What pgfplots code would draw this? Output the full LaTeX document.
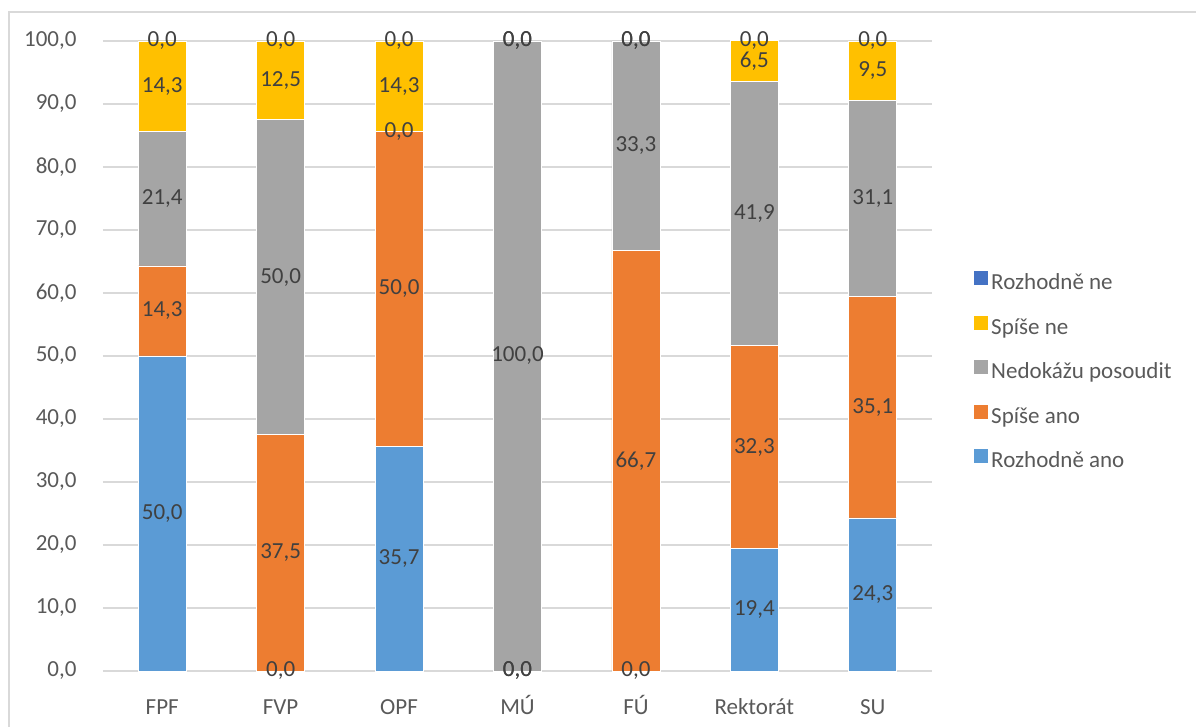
\documentclass[border=0pt]{standalone}
\usepackage{fontspec}
\setmainfont{Carlito}
\usepackage{pgfplots}
\usepackage{pgfplotstable}
\pgfplotsset{compat=1.18}

\definecolor{cAno}{HTML}{5B9BD5}
\definecolor{cSpAno}{HTML}{ED7D31}
\definecolor{cNed}{HTML}{A5A5A5}
\definecolor{cSpNe}{HTML}{FFC000}
\definecolor{cNe}{HTML}{4472C4}
\definecolor{gridc}{HTML}{D9D9D9}
\definecolor{tickc}{HTML}{595959}
\definecolor{labc}{HTML}{404040}

\pgfplotstableread{
x ano spano nedok spne ne
0 50.0 14.3 21.4 14.3 0.0
1 0.0 37.5 50.0 12.5 0.0
2 35.7 50.0 0.0 14.3 0.0
3 0.0 0.0 100.0 0.0 0.0
4 0.0 66.7 33.3 0.0 0.0
5 19.4 32.3 41.9 6.5 0.0
6 24.3 35.1 31.1 9.5 0.0
}\data

% zero-height segments: x, stack height where the label sits, value
\pgfplotstableread{
x y v
0 100.0 0.0
1 0.0 0.0
1 100.0 0.0
2 85.7 0.0
2 100.0 0.0
3 0.0 0.0
3 0.0 0.0
3 100.0 0.0
3 100.0 0.0
4 0.0 0.0
4 100.0 0.0
4 100.0 0.0
5 100.0 0.0
6 100.0 0.0
}\zeros

\newcommand\chartfont{\fontsize{23}{27}\selectfont}
\newcommand\fmt[1]{\pgfmathprintnumber[fixed,fixed zerofill,precision=1,use comma,assume math mode=true]{#1}}

\begin{document}
\begin{tikzpicture}
\useasboundingbox (-103pt,-56pt) rectangle (1093pt,671pt);
\draw[gridc, line width=1.5pt] (-94pt,-60pt) -- (-94pt,659pt) -- (1100pt,659pt);
\begin{axis}[
    at={(0pt,0pt)}, anchor=south west,
    scale only axis,
    width=829pt, height=630pt,
    ybar stacked, bar width=48pt,
    xmin=-0.5, xmax=6.5,
    ymin=0, ymax=100,
    clip=false,
    xtick=data,
    xticklabels={FPF,FVP,OPF,MÚ,FÚ,Rektorát,SU},
    ytick={0,10,...,100},
    ymajorgrids,
    major grid style={gridc, line width=1.5pt},
    axis line style={draw=none},
    major tick length=0pt,
    tick label style={font=\chartfont, text=tickc},
    xticklabel style={text height=16pt, text depth=5pt, yshift=-24pt},
    yticklabel style={xshift=-23pt},
    yticklabel={\fmt{\tick}},
    legend style={at={(1.0507,0.4746)}, anchor=west, draw=none, fill=none,
        inner sep=0pt, font=\chartfont, text=tickc, row sep=21pt,
        nodes={inner xsep=3pt, inner ysep=0pt, text height=16pt, text depth=5pt}},
    legend cell align=left,
    reverse legend,
    legend image code/.code={\fill[#1,draw=none] (0pt,-1pt) rectangle (14pt,13pt);},
    point meta=explicit,
    nodes near coords={\fmt{\pgfplotspointmeta}},
    every node near coord/.append style={anchor=center, font=\chartfont, text=labc},
]
\addplot[fill=cAno, draw=white, line width=0.8pt] table[x=x, y=ano, meta=ano] {\data};
\addplot[fill=cSpAno, draw=white, line width=0.8pt] table[x=x, y=spano, meta=spano] {\data};
\addplot[fill=cNed, draw=white, line width=0.8pt] table[x=x, y=nedok, meta=nedok] {\data};
\addplot[fill=cSpNe, draw=white, line width=0.8pt] table[x=x, y=spne, meta=spne] {\data};
\addplot[fill=cNe, draw=white, line width=0.8pt] table[x=x, y=ne, meta=ne] {\data};
\legend{Rozhodně ano, Spíše ano, Nedokážu posoudit, Spíše ne, Rozhodně ne}
\end{axis}
% labels of the zero-height segments, on an identical hidden axis
\begin{axis}[
    at={(0pt,0pt)}, anchor=south west,
    scale only axis,
    width=829pt, height=630pt,
    xmin=-0.5, xmax=6.5,
    ymin=0, ymax=100,
    hide axis, clip=false,
]
\addplot[draw=none, mark=none, point meta=explicit,
    nodes near coords={\fmt{\pgfplotspointmeta}},
    every node near coord/.append style={anchor=center, font=\chartfont, text=labc}]
    table[x=x, y=y, meta=v] {\zeros};
\end{axis}
\end{tikzpicture}
\end{document}
